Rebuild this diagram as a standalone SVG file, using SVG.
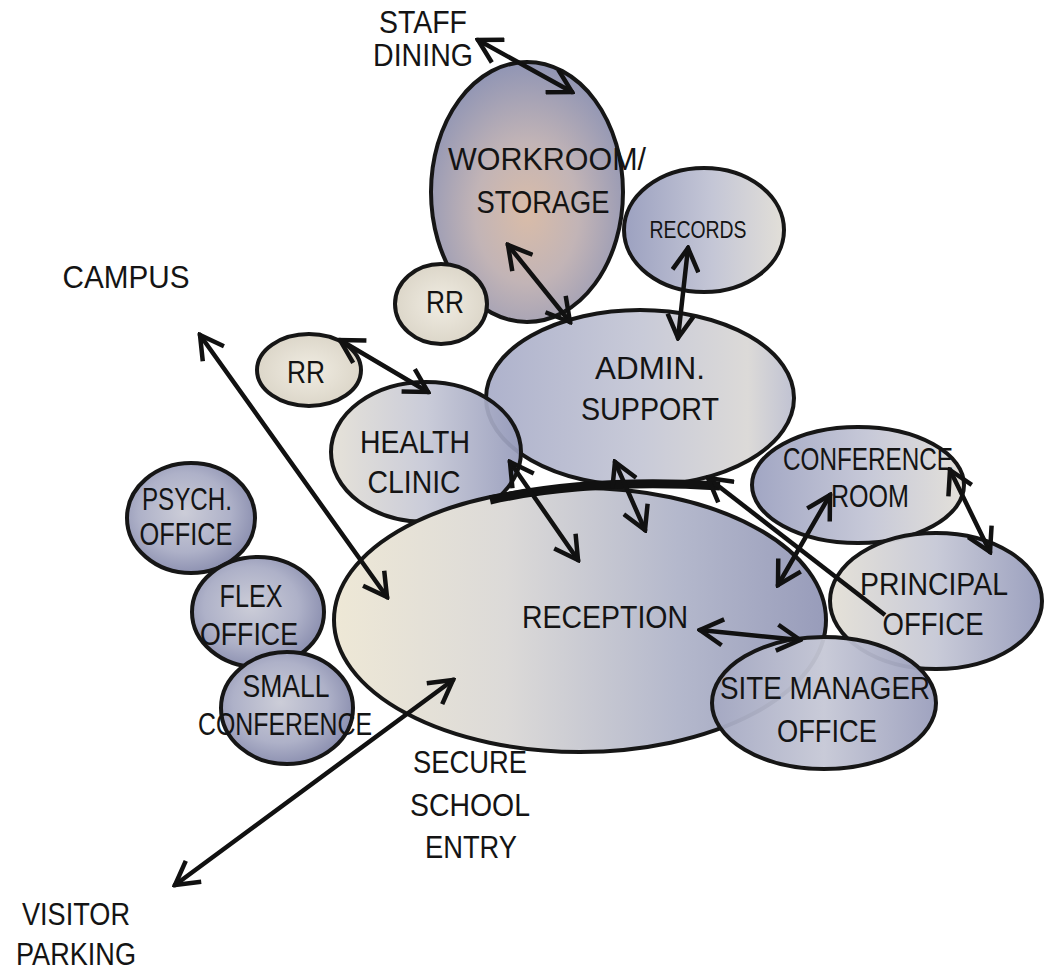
<svg xmlns="http://www.w3.org/2000/svg" width="1045" height="970" viewBox="0 0 1045 970">
<style>
.b{stroke:#161616;stroke-width:4;}
.t{font-family:"Liberation Sans Narrow","Liberation Sans",Arial,sans-serif;font-size:32px;fill:#141414;text-anchor:middle;}
.s{font-size:24px;}
.a{fill:none;stroke:#111;stroke-width:4.5;stroke-linecap:round;marker-start:url(#ah);marker-end:url(#ah);}
</style>
<defs>
<marker id="ah" viewBox="0 0 30 30" refX="27" refY="15" markerWidth="30" markerHeight="30" markerUnits="userSpaceOnUse" orient="auto-start-reverse">
<path d="M4,2 L27,15 L4,28" fill="none" stroke="#111" stroke-width="4.5" stroke-linejoin="miter"/>
</marker>
<linearGradient id="gRec" x1="0" y1="0" x2="1" y2="0">
<stop offset="0" stop-color="#eee8d6"/><stop offset="0.35" stop-color="#dcdad8"/><stop offset="0.7" stop-color="#b4b8cc"/><stop offset="1" stop-color="#989cba"/>
</linearGradient>
<radialGradient id="gWork" cx="0.5" cy="0.58" r="0.6">
<stop offset="0" stop-color="#d9bca8"/><stop offset="0.45" stop-color="#c2b4b6"/><stop offset="1" stop-color="#8d93b4"/>
</radialGradient>
<linearGradient id="gLB" x1="0" y1="0" x2="1" y2="0">
<stop offset="0" stop-color="#e4e0d6"/><stop offset="0.5" stop-color="#c6c8d6"/><stop offset="1" stop-color="#969bbb"/>
</linearGradient>
<linearGradient id="gBL" x1="0" y1="0" x2="1" y2="0">
<stop offset="0" stop-color="#9ca1c0"/><stop offset="0.55" stop-color="#c4c6d6"/><stop offset="1" stop-color="#e2dfd8"/>
</linearGradient>
<linearGradient id="gAdm" x1="0" y1="0" x2="1" y2="0">
<stop offset="0" stop-color="#aeb2cc"/><stop offset="0.5" stop-color="#c8cad8"/><stop offset="0.85" stop-color="#dcdad8"/><stop offset="1" stop-color="#c0c2d2"/>
</linearGradient>
<radialGradient id="gRR" cx="0.5" cy="0.5" r="0.6">
<stop offset="0" stop-color="#f0ece2"/><stop offset="1" stop-color="#d8d2c4"/>
</radialGradient>
<radialGradient id="gSm" cx="0.45" cy="0.45" r="0.6">
<stop offset="0" stop-color="#cccdd8"/><stop offset="0.6" stop-color="#aeb1c8"/><stop offset="1" stop-color="#868aac"/>
</radialGradient>
<linearGradient id="gSite" x1="0" y1="0" x2="1" y2="0">
<stop offset="0" stop-color="#a4a8c2"/><stop offset="0.5" stop-color="#c6c8d6"/><stop offset="1" stop-color="#9a9ebc"/>
</linearGradient>
</defs>

<g id="workroom">
<ellipse class="b" cx="527" cy="192" rx="96" ry="130" fill="url(#gWork)" stroke-width="5"/>
<text class="t" x="547" y="170" textLength="198" lengthAdjust="spacingAndGlyphs">WORKROOM/</text>
<text class="t" x="543" y="213" textLength="133" lengthAdjust="spacingAndGlyphs">STORAGE</text>
</g>
<g id="records">
<ellipse class="b" cx="704" cy="230" rx="80" ry="62" fill="url(#gBL)"/>
<text class="t s" x="698" y="238" textLength="97" lengthAdjust="spacingAndGlyphs">RECORDS</text>
</g>
<g id="rr-top">
<ellipse class="b" cx="441" cy="304" rx="46" ry="40" fill="url(#gRR)" stroke-width="3"/>
<text class="t" x="445" y="313" textLength="38" lengthAdjust="spacingAndGlyphs">RR</text>
</g>
<g id="rr-left">
<ellipse class="b" cx="309" cy="370" rx="52" ry="36" fill="url(#gRR)" stroke-width="3"/>
<text class="t" x="306" y="383" textLength="38" lengthAdjust="spacingAndGlyphs">RR</text>
</g>
<g id="admin">
<ellipse class="b" cx="640" cy="398" rx="154" ry="88" fill="url(#gAdm)" stroke-width="3.5"/>
<text class="t" x="650" y="379" textLength="110" lengthAdjust="spacingAndGlyphs">ADMIN.</text>
<text class="t" x="650" y="420" textLength="138" lengthAdjust="spacingAndGlyphs">SUPPORT</text>
</g>
<g id="health">
<ellipse class="b" cx="426" cy="452" rx="95" ry="70" fill="url(#gLB)" fill-opacity="0.93" stroke-width="5"/>
<text class="t" x="415" y="453" textLength="110" lengthAdjust="spacingAndGlyphs">HEALTH</text>
<text class="t" x="414" y="493" textLength="93" lengthAdjust="spacingAndGlyphs">CLINIC</text>
</g>
<g id="reception">
<ellipse class="b" cx="580" cy="620" rx="246" ry="132" fill="url(#gRec)" stroke-width="4"/>
<path d="M490,500 Q590,478 720,486" fill="none" stroke="#111" stroke-width="9"/>
<text class="t" x="605" y="628" textLength="166" lengthAdjust="spacingAndGlyphs">RECEPTION</text>
</g>
<g id="conference">
<ellipse class="b" cx="858" cy="485" rx="106" ry="58" fill="url(#gBL)" fill-opacity="0.95" stroke-width="5"/>
<text class="t" x="868" y="470" textLength="170" lengthAdjust="spacingAndGlyphs">CONFERENCE</text>
<text class="t" x="870" y="507" textLength="78" lengthAdjust="spacingAndGlyphs">ROOM</text>
</g>
<g id="principal">
<ellipse class="b" cx="936" cy="601" rx="106" ry="68" fill="url(#gLB)" fill-opacity="0.95" stroke-width="5"/>
<text class="t" x="934" y="595" textLength="148" lengthAdjust="spacingAndGlyphs">PRINCIPAL</text>
<text class="t" x="933" y="635" textLength="101" lengthAdjust="spacingAndGlyphs">OFFICE</text>
</g>
<g id="site-manager">
<ellipse class="b" cx="824" cy="703" rx="112" ry="66" fill="url(#gSite)" fill-opacity="0.95" stroke-width="5"/>
<text class="t" x="825" y="699" textLength="210" lengthAdjust="spacingAndGlyphs">SITE MANAGER</text>
<text class="t" x="827" y="742" textLength="100" lengthAdjust="spacingAndGlyphs">OFFICE</text>
</g>
<g id="psych">
<ellipse class="b" cx="191" cy="518" rx="64" ry="55" fill="url(#gSm)" stroke-width="4"/>
<text class="t" x="187" y="510" textLength="90" lengthAdjust="spacingAndGlyphs">PSYCH.</text>
<text class="t" x="186" y="545" textLength="93" lengthAdjust="spacingAndGlyphs">OFFICE</text>
</g>
<g id="flex">
<ellipse class="b" cx="258" cy="612" rx="66" ry="55" fill="url(#gSm)" stroke-width="4"/>
<text class="t" x="251" y="607" textLength="63" lengthAdjust="spacingAndGlyphs">FLEX</text>
<text class="t" x="249" y="645" textLength="98" lengthAdjust="spacingAndGlyphs">OFFICE</text>
</g>
<g id="small-conference">
<ellipse class="b" cx="287" cy="708" rx="66" ry="56" fill="url(#gSm)" stroke-width="4"/>
<text class="t" x="286" y="697" textLength="87" lengthAdjust="spacingAndGlyphs">SMALL</text>
<text class="t" x="285" y="735" textLength="174" lengthAdjust="spacingAndGlyphs">CONFERENCE</text>
</g>

<g id="labels">
<text class="t" x="423" y="33" textLength="88" lengthAdjust="spacingAndGlyphs">STAFF</text>
<text class="t" x="423" y="66" textLength="100" lengthAdjust="spacingAndGlyphs">DINING</text>
<text class="t" x="126" y="288" textLength="127" lengthAdjust="spacingAndGlyphs">CAMPUS</text>
<text class="t" x="470" y="773" textLength="114" lengthAdjust="spacingAndGlyphs">SECURE</text>
<text class="t" x="470" y="816" textLength="120" lengthAdjust="spacingAndGlyphs">SCHOOL</text>
<text class="t" x="471" y="858" textLength="92" lengthAdjust="spacingAndGlyphs">ENTRY</text>
<text class="t" x="76" y="925" textLength="108" lengthAdjust="spacingAndGlyphs">VISITOR</text>
<text class="t" x="76" y="965" textLength="120" lengthAdjust="spacingAndGlyphs">PARKING</text>
</g>

<g id="connectors">
<line class="a" x1="478" y1="40" x2="572" y2="92"/>
<line class="a" x1="508" y1="245" x2="570" y2="322"/>
<line class="a" x1="688" y1="248" x2="678" y2="338"/>
<line class="a" x1="340" y1="340" x2="428" y2="392"/>
<line class="a" x1="200" y1="335" x2="387" y2="597"/>
<line class="a" x1="510" y1="462" x2="578" y2="560"/>
<line class="a" x1="615" y1="462" x2="645" y2="530"/>
<line x1="885" y1="615" x2="708" y2="478" fill="none" stroke="#111" stroke-width="4.5" marker-end="url(#ah)"/>
<line class="a" x1="830" y1="495" x2="778" y2="585"/>
<line class="a" x1="950" y1="470" x2="990" y2="552"/>
<line class="a" x1="700" y1="630" x2="800" y2="640"/>
<line class="a" x1="175" y1="885" x2="453" y2="680"/>
</g>
</svg>
